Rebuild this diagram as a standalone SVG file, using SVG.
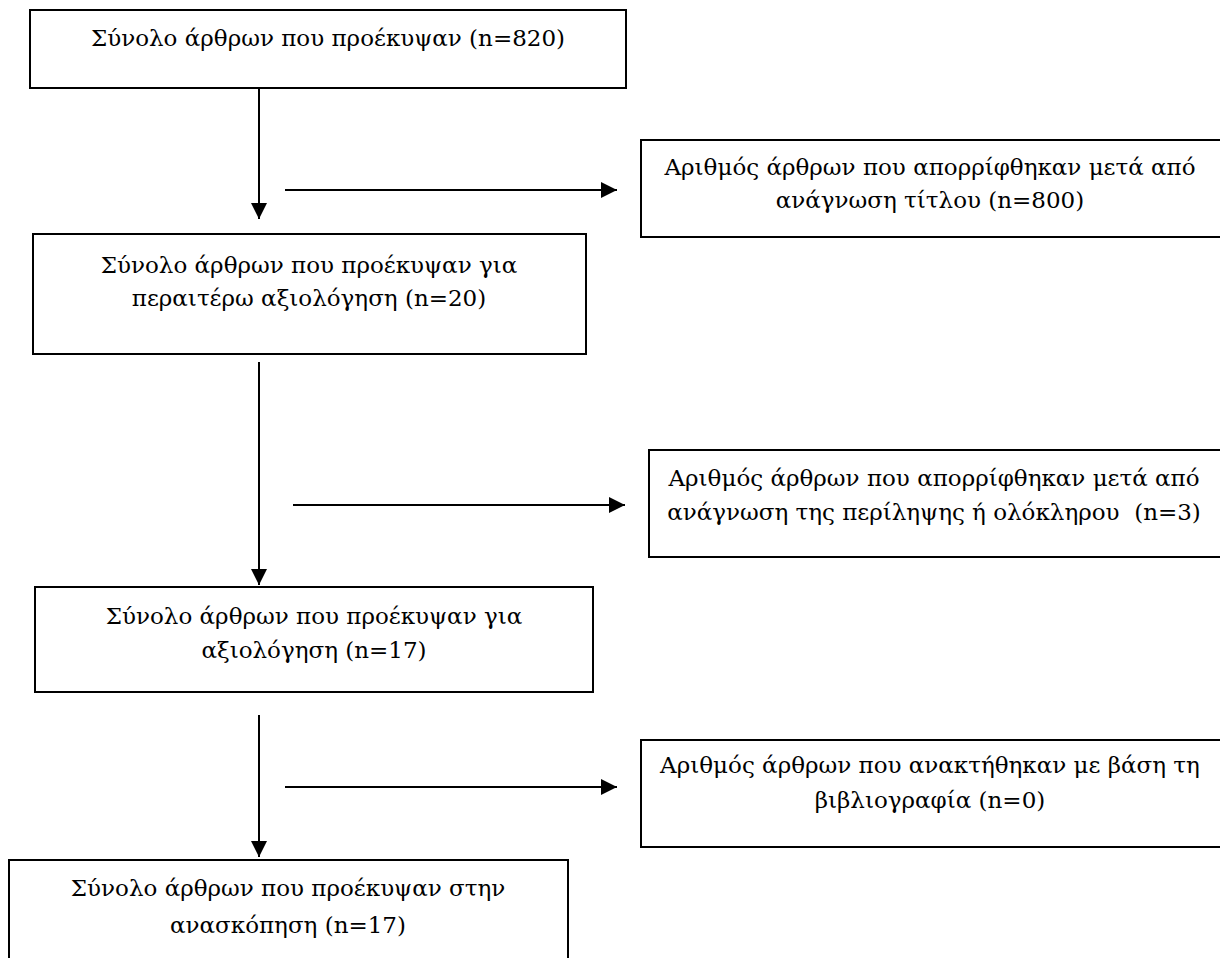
<svg xmlns="http://www.w3.org/2000/svg" width="1220" height="958" viewBox="0 0 1220 958">
<style>
rect.box{fill:#fff;stroke:#000;stroke-width:2}
text{font-family:"DejaVu Serif","Liberation Serif",serif;font-size:23px;fill:#000;text-anchor:middle}
line.c{stroke:#000;stroke-width:2}
</style>
<defs>
<marker id="ah" viewBox="0 0 16 16" refX="16" refY="8" markerWidth="16" markerHeight="16" markerUnits="userSpaceOnUse" orient="auto">
<path d="M0,0 L16,8 L0,16 Z" fill="#000"/>
</marker>
</defs>
<rect width="1220" height="958" fill="#fff"/>
<g id="connectors">
<line class="c" x1="259" y1="88" x2="259" y2="219" marker-end="url(#ah)"/>
<line class="c" x1="285" y1="190" x2="617" y2="190" marker-end="url(#ah)"/>
<line class="c" x1="259" y1="362" x2="259" y2="585" marker-end="url(#ah)"/>
<line class="c" x1="293" y1="505" x2="625" y2="505" marker-end="url(#ah)"/>
<line class="c" x1="259" y1="715" x2="259" y2="857" marker-end="url(#ah)"/>
<line class="c" x1="285" y1="787" x2="617" y2="787" marker-end="url(#ah)"/>
</g>
<g id="n1">
<rect class="box" x="30" y="10" width="596" height="78"/>
<text x="328" y="46">Σύνολο άρθρων που προέκυψαν (n=820)</text>
</g>
<g id="n2">
<rect class="box" x="641" y="140" width="590" height="97"/>
<text x="930" y="175">Αριθμός άρθρων που απορρίφθηκαν μετά από</text>
<text x="930" y="208">ανάγνωση τίτλου (n=800)</text>
</g>
<g id="n3">
<rect class="box" x="33" y="234" width="553" height="120"/>
<text x="309" y="273">Σύνολο άρθρων που προέκυψαν για</text>
<text x="309" y="306">περαιτέρω αξιολόγηση (n=20)</text>
</g>
<g id="n4">
<rect class="box" x="649" y="450" width="580" height="107"/>
<text x="934" y="486">Αριθμός άρθρων που απορρίφθηκαν μετά από</text>
<text x="934" y="520" xml:space="preserve">ανάγνωση της περίληψης ή ολόκληρου  (n=3)</text>
</g>
<g id="n5">
<rect class="box" x="35" y="587" width="558" height="105"/>
<text x="314" y="624">Σύνολο άρθρων που προέκυψαν για</text>
<text x="314" y="658">αξιολόγηση (n=17)</text>
</g>
<g id="n6">
<rect class="box" x="641" y="740" width="590" height="107"/>
<text x="930" y="773">Αριθμός άρθρων που ανακτήθηκαν με βάση τη</text>
<text x="930" y="808">βιβλιογραφία (n=0)</text>
</g>
<g id="n7">
<rect class="box" x="9" y="860" width="559" height="110"/>
<text x="288" y="896">Σύνολο άρθρων που προέκυψαν στην</text>
<text x="288" y="933">ανασκόπηση (n=17)</text>
</g>
</svg>
